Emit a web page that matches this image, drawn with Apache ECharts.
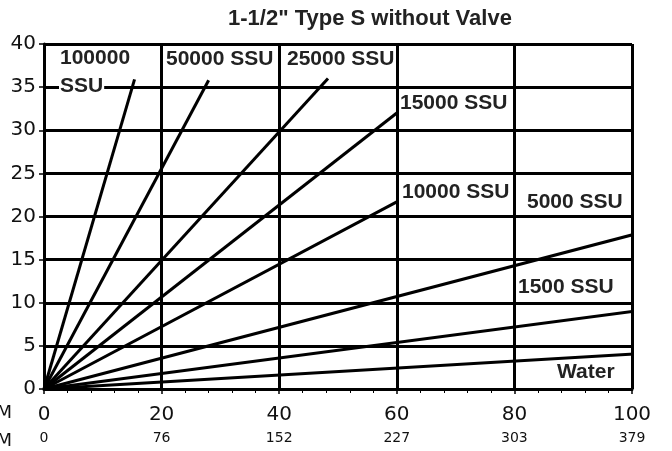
<!DOCTYPE html>
<html><head><meta charset="utf-8">
<script src="https://cdn.jsdelivr.net/npm/echarts@6/dist/echarts.min.js"></script>
<style>html,body{margin:0;padding:0;background:#fff}#c{width:672px;height:451px}</style>
</head><body><div id="c"></div>
<script>
const titleText = '1-1/2" Type S without Valve';
const gpmTicks = [0, 20, 40, 60, 80, 100];
const lpmTicks = [0, 76, 152, 227, 303, 379];
const yTicks = [0, 5, 10, 15, 20, 25, 30, 35, 40];
const seriesNames = ['100000 SSU', '50000 SSU', '25000 SSU', '15000 SSU', '10000 SSU', '5000 SSU', '1500 SSU', 'Water'];
const endX = [15.4, 28.0, 48.3, 60.0, 60.0, 101.3, 101.3, 101.3];
const endY = [35.9, 35.8, 36.0, 32.0, 21.7, 18.1, 9.1, 4.1];

const chart = echarts.init(document.getElementById('c'));
const FONT = 'Liberation Sans, Arial, sans-serif';
const NFONT = 'DejaVu Sans, sans-serif';
const lpmOf = {};
gpmTicks.forEach((g, i) => lpmOf[g] = lpmTicks[i]);

const series = seriesNames.map((n, i) => ({
  name: n, type: 'line', clip: false, symbol: 'none', silent: true,
  lineStyle: { color: '#000', width: 3 },
  data: [[0, 0], [endX[i], endY[i]]]
}));

function lbl(text, x, y, bg) {
  return { type: 'text', left: x, top: y, z: 100,
    style: { text: text, font: 'bold 21px ' + FONT, fill: '#222',
      backgroundColor: bg === false ? 'transparent' : '#fff', padding: [0, 1] } };
}

chart.setOption({
  animation: false,
  backgroundColor: '#fff',
  grid: { left: 44, right: 40, top: 44, bottom: 62 },
  xAxis: {
    type: 'value', min: 0, max: 100, interval: 20,
    axisLine: { lineStyle: { color: '#000', width: 3 } },
    axisTick: { show: true, length: 5, lineStyle: { color: '#000', width: 1.5 } },
    minorTick: { show: true, splitNumber: 5, length: 4, lineStyle: { color: '#000', width: 1 } },
    splitLine: { show: true, lineStyle: { color: '#000', width: 3 } },
    axisLabel: {
      margin: 14,
      formatter: v => '{a|' + v + '}\n{b|' + lpmOf[v] + '}',
      rich: {
        a: { fontFamily: NFONT, fontSize: 20, color: '#111', lineHeight: 24 },
        b: { fontFamily: NFONT, fontSize: 14, color: '#111', lineHeight: 22 }
      }
    }
  },
  yAxis: {
    type: 'value', min: 0, max: 40, interval: 5,
    axisLine: { show: true, lineStyle: { color: '#000', width: 3 } },
    axisTick: { show: true, length: 5, lineStyle: { color: '#000', width: 1.5 } },
    splitLine: { show: true, lineStyle: { color: '#000', width: 3 } },
    axisLabel: { margin: 8, fontFamily: NFONT, fontSize: 20, color: '#111' }
  },
  series: series,
  graphic: [
    { type: 'text', left: 228, top: 8, style: { text: titleText, font: 'bold 22px ' + FONT, fill: '#222' } },
    { type: 'text', right: 660, top: 404, style: { text: 'GPM', font: '18px ' + NFONT, fill: '#111', textAlign: 'right' } },
    { type: 'text', right: 660, top: 432, style: { text: 'LPM', font: '18px ' + NFONT, fill: '#111', textAlign: 'right' } },
    lbl('100000', 59, 48),
    lbl('SSU', 59, 76),
    lbl('50000 SSU', 165, 49),
    lbl('25000 SSU', 286, 49, false),
    lbl('15000 SSU', 399, 93),
    lbl('10000 SSU', 401, 182),
    lbl('5000 SSU', 526, 192),
    lbl('1500 SSU', 517, 277),
    lbl('Water', 556, 362)
  ]
});
</script></body></html>
